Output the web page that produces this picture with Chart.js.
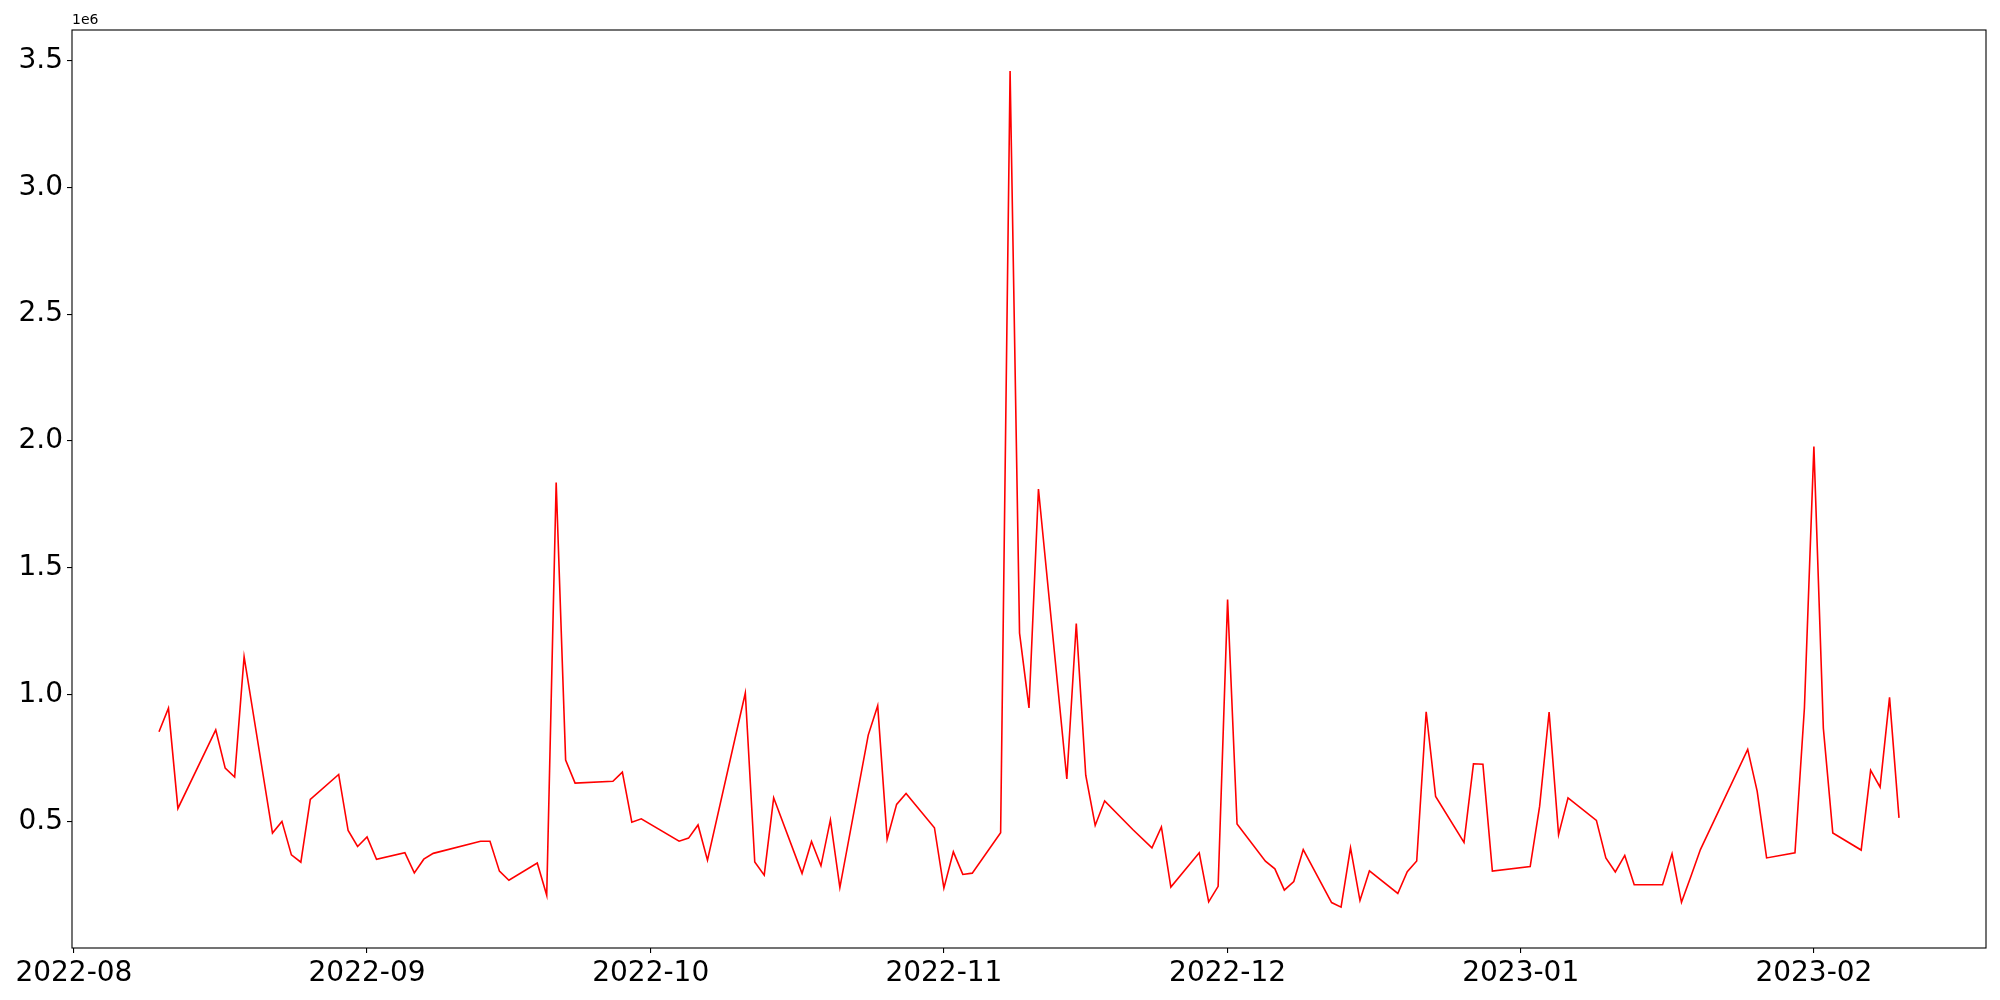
<!DOCTYPE html>
<html>
<head>
<meta charset="utf-8">
<script src="https://cdn.jsdelivr.net/npm/chart.js@4.4.1/dist/chart.umd.min.js"></script>
<style>
  body { margin: 0; background: #fff; }
</style>
</head>
<body>
<canvas id="chart" width="2000" height="1000"></canvas>
<script>
const dates = [
  "2022-08-10", "2022-08-11", "2022-08-12", "2022-08-16", "2022-08-17", "2022-08-18", "2022-08-19",
  "2022-08-22", "2022-08-23", "2022-08-24", "2022-08-25", "2022-08-26", "2022-08-29", "2022-08-30",
  "2022-08-31", "2022-09-01", "2022-09-02", "2022-09-05", "2022-09-06", "2022-09-07", "2022-09-08",
  "2022-09-13", "2022-09-14", "2022-09-15", "2022-09-16", "2022-09-19", "2022-09-20", "2022-09-21",
  "2022-09-22", "2022-09-23", "2022-09-27", "2022-09-28", "2022-09-29", "2022-09-30", "2022-10-04",
  "2022-10-05", "2022-10-06", "2022-10-07", "2022-10-11", "2022-10-12", "2022-10-13", "2022-10-14",
  "2022-10-17", "2022-10-18", "2022-10-19", "2022-10-20", "2022-10-21", "2022-10-24", "2022-10-25",
  "2022-10-26", "2022-10-27", "2022-10-28", "2022-10-31", "2022-11-01", "2022-11-02", "2022-11-03",
  "2022-11-04", "2022-11-07", "2022-11-08", "2022-11-09", "2022-11-10", "2022-11-11", "2022-11-14",
  "2022-11-15", "2022-11-16", "2022-11-17", "2022-11-18", "2022-11-21", "2022-11-23", "2022-11-24",
  "2022-11-25", "2022-11-28", "2022-11-29", "2022-11-30", "2022-12-01", "2022-12-02", "2022-12-05",
  "2022-12-06", "2022-12-07", "2022-12-08", "2022-12-09", "2022-12-12", "2022-12-13", "2022-12-14",
  "2022-12-15", "2022-12-16", "2022-12-19", "2022-12-20", "2022-12-21", "2022-12-22", "2022-12-23",
  "2022-12-26", "2022-12-27", "2022-12-28", "2022-12-29", "2023-01-02", "2023-01-03", "2023-01-04",
  "2023-01-05", "2023-01-06", "2023-01-09", "2023-01-10", "2023-01-11", "2023-01-12", "2023-01-13",
  "2023-01-16", "2023-01-17", "2023-01-18", "2023-01-19", "2023-01-20", "2023-01-25", "2023-01-26",
  "2023-01-27", "2023-01-30", "2023-01-31", "2023-02-01", "2023-02-02", "2023-02-03", "2023-02-06",
  "2023-02-07", "2023-02-08", "2023-02-09", "2023-02-10"
];

const values = [
  854000, 947000, 552000, 862000, 711000, 676000, 1150000,
  455000, 501000, 369000, 340000, 588000, 686000, 465000,
  402000, 440000, 352000, 378000, 298000, 352000, 375000,
  423000, 423000, 305000, 269000, 337000, 210000, 1837000,
  743000, 652000, 659000, 695000, 498000, 511000, 423000,
  435000, 487000, 348000, 1007000, 341000, 289000, 594000,
  296000, 422000, 326000, 507000, 240000, 841000, 957000,
  431000, 568000, 611000, 476000, 238000, 381000, 292000,
  297000, 456000, 3458000, 1243000, 948000, 1811000, 668000,
  1281000, 683000, 485000, 582000, 468000, 397000, 479000,
  242000, 377000, 184000, 245000, 1375000, 491000, 344000,
  314000, 230000, 264000, 390000, 181000, 163000, 397000,
  189000, 306000, 217000, 303000, 345000, 933000, 599000,
  418000, 728000, 726000, 305000, 323000, 561000, 932000,
  449000, 594000, 505000, 357000, 302000, 367000, 251000,
  251000, 373000, 182000, 285000, 390000, 785000, 620000,
  357000, 377000, 949000, 1978000, 868000, 455000, 388000,
  702000, 636000, 990000, 515000
];

const monthTicks = ["2022-08", "2022-09", "2022-10", "2022-11", "2022-12", "2023-01", "2023-02"];
const yTicks = [500000, 1000000, 1500000, 2000000, 2500000, 3000000, 3500000];

const DAY = 86400000;
const toMs = s => Date.parse(s + (s.length === 7 ? "-01" : "") + "T00:00:00Z");

const points = dates.map((d, i) => ({ x: toMs(d), y: values[i] }));
const span = toMs(dates[dates.length - 1]) - toMs(dates[0]);

const fmtMonth = v => {
  const d = new Date(v);
  return d.getUTCFullYear() + "-" + String(d.getUTCMonth() + 1).padStart(2, "0");
};

const frame = {
  id: "frame",
  afterDraw(chart) {
    const { ctx, chartArea: a } = chart;
    ctx.save();
    ctx.strokeStyle = "#000";
    ctx.lineWidth = 1.1;
    ctx.strokeRect(a.left, a.top, a.right - a.left, a.bottom - a.top);
    ctx.fillStyle = "#000";
    ctx.font = "14px 'DejaVu Sans'";
    ctx.textBaseline = "bottom";
    ctx.textAlign = "left";
    ctx.fillText("1e6", a.left, a.top - 3);
    ctx.restore();
  }
};

const tickFont = { family: "DejaVu Sans", size: 28 };

new Chart(document.getElementById("chart"), {
  type: "line",
  data: {
    datasets: [{
      data: points,
      borderColor: "#ff0000",
      borderWidth: 1.6,
      pointRadius: 0,
      tension: 0,
      fill: false
    }]
  },
  options: {
    responsive: false,
    animation: false,
    devicePixelRatio: 1,
    layout: { padding: { top: 30, right: 14, left: 0, bottom: 0 } },
    plugins: { legend: { display: false }, tooltip: { enabled: false } },
    scales: {
      x: {
        type: "linear",
        min: toMs(dates[0]) - span * 0.05,
        max: toMs(dates[dates.length - 1]) + span * 0.05,
        afterBuildTicks: s => { s.ticks = monthTicks.map(m => ({ value: toMs(m) })); },
        afterFit: s => { s.height = 52; },
        ticks: {
          callback: v => fmtMonth(v),
          color: "#000",
          font: tickFont,
          padding: 4,
          maxRotation: 0,
          autoSkip: false
        },
        grid: { drawOnChartArea: false, drawTicks: true, tickLength: 5, color: "#000", lineWidth: 1.1 },
        border: { display: false }
      },
      y: {
        min: 2000,
        max: 3620000,
        afterBuildTicks: s => { s.ticks = yTicks.map(v => ({ value: v })); },
        afterFit: s => { s.width = 72; },
        ticks: {
          callback: v => (v / 1e6).toFixed(1),
          color: "#000",
          font: tickFont,
          padding: 4
        },
        grid: { drawOnChartArea: false, drawTicks: true, tickLength: 5, color: "#000", lineWidth: 1.1 },
        border: { display: false }
      }
    }
  },
  plugins: [frame]
});
</script>
</body>
</html>
